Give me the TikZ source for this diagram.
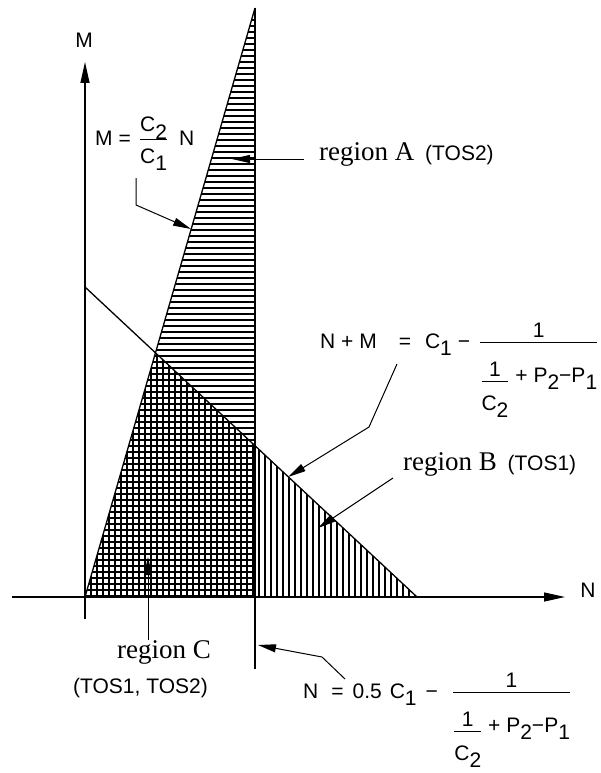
\documentclass[tikz,border=0pt]{standalone}
\usepackage{amsmath}
\usepackage{fontspec}
\setmainfont{Liberation Sans}
\newfontfamily\timesfont{Liberation Serif}
\usetikzlibrary{arrows.meta}

\newcommand{\dn}[1]{\raisebox{-0.35em}{#1}}
\newcommand{\fr}[4][4pt]{$\genfrac{}{}{1pt}{0}{\text{\smash{\raisebox{-#1}{#2}}}}{\text{\rule{0pt}{#4}#3}}$}
\newcommand{\tos}[1]{{\fontsize{21}{25}\rmfamily\selectfont #1}}

\begin{document}
\begin{tikzpicture}[
      x=1pt, y=-1pt,
      every node/.style={font=\fontsize{21}{25}\selectfont, inner sep=0pt},
      axis/.style={line width=1.2pt, -{Triangle[length=21pt,width=9pt]}},
      edge/.style={line width=1.3pt},
      lead/.style={line width=1pt, -{Triangle[length=18pt,width=8pt]}},
      hatch/.style={line width=1.6pt},
      formula/.style={anchor=base west},
      rlabel/.style={anchor=base west, font=\fontsize{27}{30}\selectfont\timesfont},
    ]
    \useasboundingbox (0,0) rectangle (601,773);

    % Corner points
    \coordinate (o)    at (85,597);
    \coordinate (apex) at (255,8);
    \coordinate (foot) at (255,669);
    \coordinate (dtop) at (85,287);
    \coordinate (dend) at (417,597);
    \coordinate (base) at (255,597);
    \coordinate (cut)  at (intersection of o--apex and dtop--dend);

    % Hatching, region A (horizontal)
    \begin{scope}
      \clip (o) -- (apex) -- (base) -- cycle;
      \foreach \y in {14,20,...,596}
        \draw[hatch] (80,\y) -- (260,\y);
    \end{scope}
    % Hatching, region B (vertical)
    \begin{scope}
      \clip (o) -- (cut) -- (dend) -- cycle;
      \foreach \x in {91,97,...,416}
        \draw[hatch] (\x,340) -- (\x,600);
    \end{scope}

    % Axes
    \coordinate (mbot)   at (85,619);
    \coordinate (mtop)   at (85,62);
    \coordinate (nleft)  at (12,597);
    \coordinate (nright) at (565,597);
    \draw[axis] (mbot) -- (mtop);
    \draw[axis] (nleft) -- (nright);
    \node (mlab) at (84,40)  {M};
    \node (nlab) at (588,590) {N};

    % Boundary lines
    \draw[edge] (o) -- (apex);
    \draw[edge] (apex) -- (foot);
    \draw[edge] (dtop) -- (dend);

    % Formulas
    \node[formula] (slope) at (95,145)
      {M\hspace{6pt}=\hspace{8pt}\fr[1pt]{C\dn{2}}{C\dn{1}}{19.7pt}\hspace{11pt}N};
    \node[formula] (sum) at (320,348)
      {N + M\hspace{22pt}=\hspace{14pt}C\dn{1}\hspace{6pt}−\hspace{9pt}%
       \fr{1}{\raisebox{-4.2pt}{\fr{1}{C\dn{2}}{25.5pt}} + P\dn{2}−P\dn{1}}{35.7pt}};
    \node[formula] (half) at (303,698)
      {N\hspace{13pt}=\hspace{9pt}0.5\hspace{8pt}C\dn{1}\hspace{9pt}−\hspace{14pt}%
       \fr{1}{\raisebox{-4.2pt}{\fr{1}{C\dn{2}}{25.5pt}} + P\dn{2}−P\dn{1}}{35.7pt}};

    % Region labels
    \node[rlabel] (rega)  at (319,160) {region A\hspace{0.4em}\tos{(TOS2)}};
    \node[rlabel] (regb)  at (403,470) {region B\hspace{0.4em}\tos{(TOS1)}};
    \node[rlabel] (regc)  at (117,658) {region C};
    \node[formula] (regct) at (73,693) {(TOS1, TOS2)};

    % Leaders
    \coordinate (s1) at (136,178); \coordinate (s2) at (136,205); \coordinate (s3) at (191,229);
    \draw[lead] (s1) -- (s2) -- (s3);
    \coordinate (a1) at (304,159); \coordinate (a2) at (232,159);
    \draw[lead] (a1) -- (a2);
    \coordinate (m1) at (397,364); \coordinate (m2) at (369,427); \coordinate (m3) at (288,477);
    \draw[lead] (m1) -- (m2) -- (m3);
    \coordinate (b1) at (393,478); \coordinate (b2) at (318,528);
    \draw[lead] (b1) -- (b2);
    \coordinate (c1) at (148,640); \coordinate (c2) at (148,557);
    \draw[lead] (c1) -- (c2);
    \coordinate (h1) at (345,679); \coordinate (h2) at (322,657); \coordinate (h3) at (258,645);
    \draw[lead] (h1) -- (h2) -- (h3);
  \end{tikzpicture}
\end{document}
